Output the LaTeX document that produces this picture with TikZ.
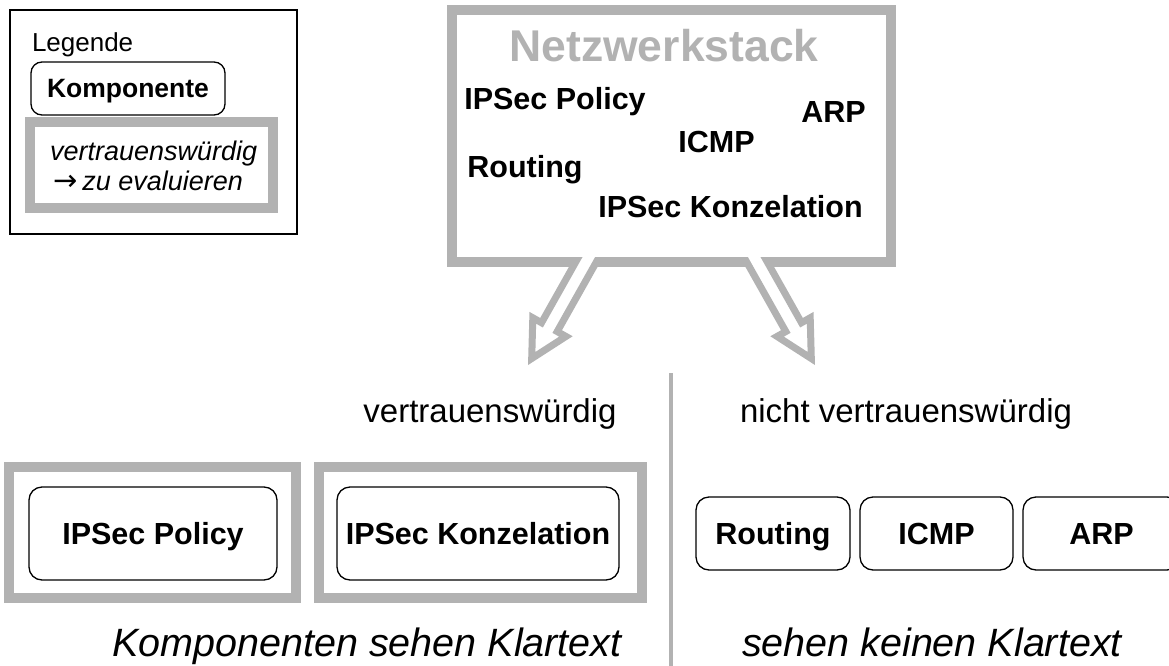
\documentclass[tikz,border=0pt]{standalone}
\usepackage{fontspec}
\setmainfont{Liberation Sans}
\newfontfamily\symfont{DejaVu Sans}
\usepackage{graphicx}
\usetikzlibrary{calc}
\definecolor{framegray}{RGB}{178,178,178}
\newcommand\fsz[1]{\fontsize{#1}{#1}\selectfont}
% hollow block arrow from tail #1 to tip #2 (open at the tail)
\newcommand\hollowarrow[2]{%
  \path[hollow] (#2) -- ($(#2)!40.71pt!27.82:(#1)$) -- ($(#2)!37.11pt!14.04:(#1)$)
    -- ($(#1)!9pt!-90:(#2)$) -- ($(#1)!9pt!90:(#2)$)
    -- ($(#2)!37.11pt!-14.04:(#1)$) -- ($(#2)!40.71pt!-27.82:(#1)$) -- cycle;}
\begin{document}
\begin{tikzpicture}[x=1pt,y=-1pt,
  every node/.style={inner sep=0pt, outer sep=0pt},
  comp/.style={draw=black, line width=1.3pt, rounded corners=13pt,
    font=\fsz{30.5}\bfseries, text height=21.8pt, text depth=0pt, align=center},
  trustframe/.style={draw=framegray, line width=10pt},
  stackword/.style={font=\fsz{30.5}\bfseries, anchor=base},
  hollow/.style={draw=framegray, fill=white, line width=7pt, line join=miter},
]
\useasboundingbox (0,0) rectangle (1169,666);

% legend
\node[draw=black, line width=1.3pt, minimum width=287pt, minimum height=224pt] (legend) at (153.5,122) {};
\node[anchor=base west, font=\fsz{26}] (legtitle) at (32,52) {Legende};
\node[comp, font=\fsz{26.5}\bfseries, text height=19pt, rounded corners=11pt,
      minimum width=194pt, minimum height=53pt] (legcomp) at (128,88.5) {Komponente};
\node[trustframe, minimum width=243pt, minimum height=86pt] (legtrust) at (151.5,165) {};
\node[anchor=base west, font=\fsz{27}\itshape] (legtrustA) at (50,160) {vertrauenswürdig};
\node[anchor=base west, font=\fsz{27}\itshape] (legtrustB) at (53,190)
  {{\symfont\fsz{29}→}\hspace{5pt}zu evaluieren};

% network stack
\node[trustframe, minimum width=439pt, minimum height=252pt] (stack) at (671.5,136) {};
\node[anchor=base, font=\fsz{44.5}\bfseries, text=framegray] (stacktitle) at (664,62) {Netzwerkstack};
\node[stackword] (sPolicy) at (555,110) {IPSec Policy};
\node[stackword] (sARP) at (833.5,122) {ARP};
\node[stackword] (sICMP) at (716.5,152) {ICMP};
\node[stackword] (sRouting) at (525,177) {Routing};
\node[stackword] (sKonz) at (730.5,217) {IPSec Konzelation};

% split arrows
\coordinate (ltail) at ($(stack.south)+(-77.6,-14)$);
\coordinate (rtail) at ($(stack.south)+(77.6,-14)$);
\coordinate (ltip) at (531.7,358.5);
\coordinate (rtip) at (811.3,358.5);
\begin{scope}
  \clip (0,257) rectangle (1169,666);
  \hollowarrow{ltail}{ltip}
  \hollowarrow{rtail}{rtip}
\end{scope}

% headings and divider
\node[anchor=base, font=\fsz{33}] (trustlbl) at (490,422) {vertrauenswürdig};
\node[anchor=base west, font=\fsz{33}] (untrustlbl) at (740,422) {nicht vertrauenswürdig};
\coordinate (divtop) at (671,373);
\coordinate (divbot) at (671,670);
\draw[framegray, line width=4pt] (divtop) -- (divbot);

% trusted components
\node[trustframe, minimum width=287pt, minimum height=131pt] (trustA) at (152.5,532.5) {};
\node[trustframe, minimum width=323pt, minimum height=131pt] (trustB) at (480.5,532.5) {};
\node[comp, minimum width=248pt, minimum height=93pt] (cPolicy) at (153,533.5) {IPSec Policy};
\node[comp, minimum width=282pt, minimum height=93pt] (cKonz) at (478,533.5) {IPSec Konzelation};

% untrusted components
\node[comp, minimum width=154pt, minimum height=73pt] (cRouting) at (773,533.5) {Routing};
\node[comp, minimum width=153pt, minimum height=73pt] (cICMP) at (936.5,533.5) {ICMP};
\node[comp, minimum width=157pt, minimum height=73pt] (cARP) at (1101.5,533.5) {ARP};

% captions
\node[anchor=base, font=\fsz{39.5}\itshape] (capA) at (367,656) {Komponenten sehen Klartext};
\node[anchor=base west, font=\fsz{39.5}\itshape] (capB) at (742,656) {sehen keinen Klartext};
\end{tikzpicture}
\end{document}
